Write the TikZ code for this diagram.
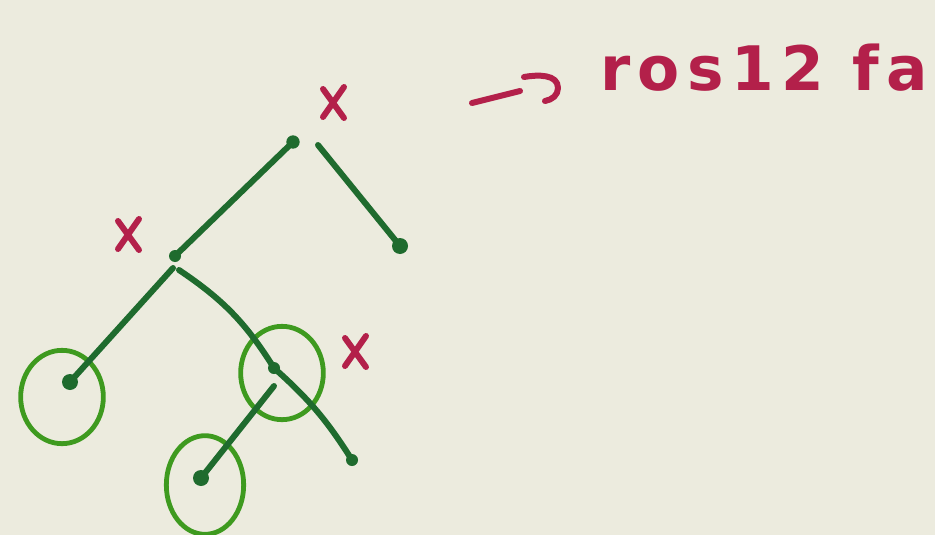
\documentclass[tikz,border=0pt]{standalone}
\usepackage{fontspec}
\newfontfamily\handfont[LetterSpace=12]{DejaVu Sans Bold}
\usetikzlibrary{shapes.geometric}
\definecolor{paper}{HTML}{ECEBDE}
\definecolor{branch}{HTML}{1F6B2E}
\definecolor{ring}{HTML}{3E9A1F}
\definecolor{mark}{HTML}{B3204A}
\tikzset{
  edge/.style={draw=branch, line width=4.5pt, line cap=round},
  dotnode/.style={circle, fill=branch, inner sep=0pt, minimum size=10pt},
  ringnode/.style={ellipse, draw=ring, line width=3.6pt, minimum width=62pt, minimum height=70pt, inner sep=0pt},
  xstroke/.style={draw=mark, line width=4.5pt, line cap=round},
  label/.style={text=mark, font=\handfont\fontsize{46}{50}\selectfont, anchor=base west, inner sep=0pt}
}
\begin{document}
\begin{tikzpicture}[x=0.75pt,y=-0.75pt]
\fill[paper] (0,0) rectangle (935,535);
\useasboundingbox (0,0) rectangle (935,535);
% nodes
\node[dotnode] (R) at (293,142) {};
\node[dotnode, minimum size=12pt] (RL) at (400,246) {};
\node[dotnode, minimum size=9pt] (L) at (175,256) {};
\node[dotnode, minimum size=12pt] (A) at (70,382) {};
\node[dotnode, minimum size=9pt] (M) at (274,368) {};
\node[dotnode, minimum size=9pt] (B) at (352,460) {};
\node[dotnode, minimum size=12pt] (C) at (201,478) {};
% rings
\node[ringnode] (ringA) at (62,397) {};
\node[ringnode] (ringM) at (282,373) {};
\node[ringnode, minimum width=58pt, minimum height=74pt] (ringC) at (205,485) {};
% edges
\draw[edge] (R.center) -- (L.center);
\draw[edge] ([shift={(25,3)}]R.center) -- (RL.center);
\draw[edge] ([shift={(-2,12)}]L.center) -- (A.center);
\draw[edge] ([shift={(4,14)}]L.center) to[bend left=12] (M.center);
\draw[edge] (M.center) to[bend left=8] (B.center);
\draw[edge] ([shift={(0,18)}]M.center) -- (C.center);
% x marks
\coordinate (X1) at (333,103);
\coordinate (X2) at (128,235);
\coordinate (X3) at (355,352);
\foreach \p in {X1,X2,X3}{
  \draw[xstroke] ([shift={(-10,-14)}]\p) -- ([shift={(11,15)}]\p);
  \draw[xstroke] ([shift={(11,-16)}]\p) -- ([shift={(-10,14)}]\p);
}
% arrow and label
\coordinate (a1) at (472,103);
\coordinate (a2) at (520,91);
\coordinate (a3) at (524,77);
\coordinate (a4) at (558,88);
\coordinate (a5) at (545,101);
\draw[xstroke, line width=4.5pt] (a1) -- (a2);
\draw[xstroke, line width=4.5pt, line join=round] (a3) to[out=10,in=90] (a4) to[out=-90,in=10] (a5);
\node[label] (T) at (600,90) {ros12 fa};
\end{tikzpicture}
\end{document}
